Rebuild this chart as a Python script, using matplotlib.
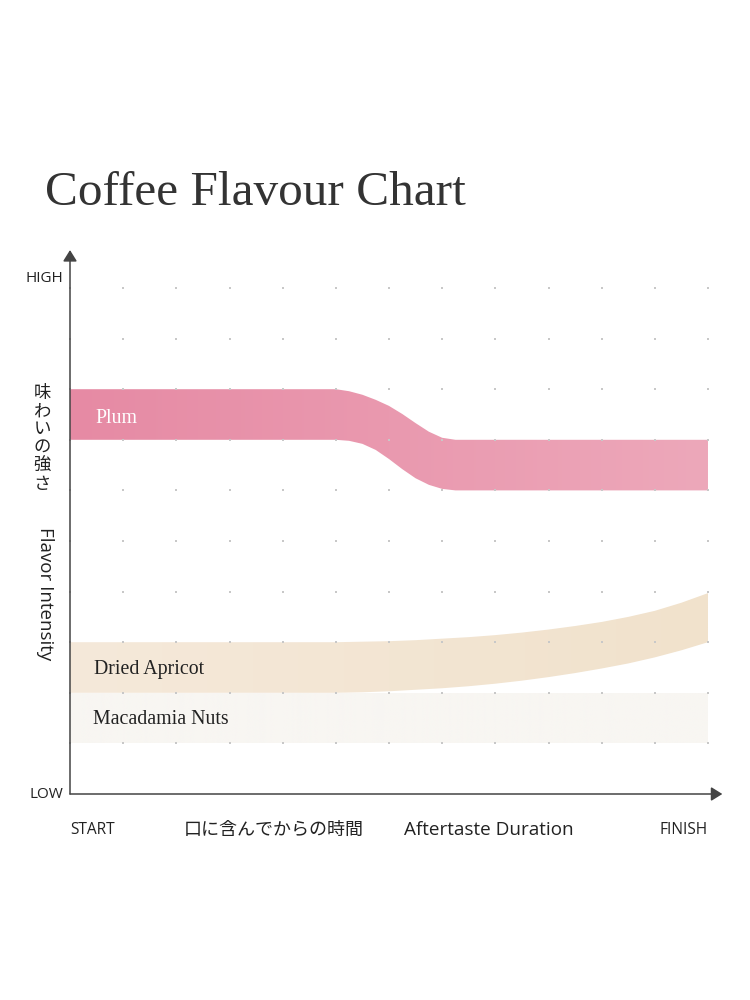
import numpy as np
import matplotlib
matplotlib.use("Agg")
import matplotlib.pyplot as plt
from matplotlib.patches import Polygon
from matplotlib.colors import to_rgb

# band edges (x = time 0..12, y = intensity 0..10)
plum_x_top = [0, 1, 2, 3, 4, 5, 5.25, 5.5, 5.75, 6.0, 6.25, 6.5, 6.75, 7.0, 7.25, 8, 9, 10, 11, 12]
plum_top = [8, 8, 8, 8, 8, 8, 7.96, 7.89, 7.79, 7.67, 7.51, 7.33, 7.16, 7.04, 7.0, 7, 7, 7, 7, 7]
plum_x_bot = [0, 1, 2, 3, 4, 5, 5.25, 5.5, 5.75, 6.0, 6.25, 6.5, 6.75, 7.0, 7.25, 7.5, 8, 9, 10, 11, 12]
plum_bot = [7, 7, 7, 7, 7, 7, 6.98, 6.92, 6.8, 6.62, 6.42, 6.24, 6.11, 6.03, 6.0, 6.0, 6, 6, 6, 6, 6]

apricot_x = [0, 1, 2, 3, 4, 5, 5.5, 6, 6.5, 7, 7.5, 8, 8.5, 9, 9.5, 10, 10.5, 11, 11.5, 12]
apricot_top = [3, 3, 3, 3, 3, 3.0, 3.01, 3.02, 3.04, 3.07, 3.1, 3.14, 3.19, 3.25, 3.32, 3.4, 3.5, 3.62, 3.78, 3.97]
apricot_bot = [2, 2, 2, 2, 2, 2.0, 2.01, 2.03, 2.06, 2.09, 2.13, 2.18, 2.24, 2.31, 2.39, 2.48, 2.58, 2.7, 2.84, 3.0]

nuts_x = [0, 12]
nuts_top = [2, 2]
nuts_bot = [1, 1]

flavours = ["Plum", "Dried Apricot", "Macadamia Nuts"]
label_pos = [(0.47, 7.43), (0.45, 2.46), (0.43, 1.47)]
label_colors = ["#ffffff", "#222222", "#222222"]
band_colors = [("#e68aa4", "#eda8ba"), ("#f5e9da", "#f1e2cc"), ("#f8f6f2", "#f8f6f2")]

x_ticks = ["START", "FINISH"]
y_ticks = ["HIGH", "LOW"]

SANS = ["Open Sans", "DejaVu Sans"]
CJK = ["Noto Sans CJK JP", "DejaVu Sans"]
SERIF = ["Liberation Serif", "DejaVu Serif"]

fig = plt.figure(figsize=(7.5, 10), dpi=100)
fig.patch.set_facecolor("white")
ax = fig.add_axes([70 / 750, 206 / 1000, 638 / 750, 506 / 1000])
ax.set_xlim(0, 12)
ax.set_ylim(0, 10)
ax.axis("off")


def gradient_band(xt, top, xb, bot, c0, c1):
    verts = np.column_stack([np.r_[xt, xb[::-1]], np.r_[top, bot[::-1]]])
    patch = Polygon(verts, closed=True, facecolor="none", edgecolor="none",
                    transform=ax.transData)
    ax.add_patch(patch)
    ramp = np.linspace(0, 1, 256)[None, :, None]
    img = (1 - ramp) * np.array(to_rgb(c0)) + ramp * np.array(to_rgb(c1))
    im = ax.imshow(img, extent=(0, 12, min(bot) - 0.1, max(top) + 0.1),
                   aspect="auto", interpolation="bilinear", zorder=1)
    im.set_clip_path(patch)


gradient_band(plum_x_top, plum_top, plum_x_bot, plum_bot, *band_colors[0])
gradient_band(apricot_x, apricot_top, apricot_x, apricot_bot, *band_colors[1])
gradient_band(nuts_x, nuts_top, nuts_x, nuts_bot, *band_colors[2])

# dotted grid
gx, gy = np.meshgrid(np.arange(0, 13), np.arange(1, 11))
ax.scatter(gx.ravel(), gy.ravel(), s=2, marker="s", color="#c8c8c8",
           linewidths=0, zorder=2, clip_on=False)

for name, (lx, ly), col in zip(flavours, label_pos, label_colors):
    ax.text(lx, ly, name, color=col, fontsize=14.3, family=SERIF,
            ha="left", va="center", zorder=4)

# axes with arrows
arrow = dict(arrowstyle="-|>,head_length=0.45,head_width=0.28", color="#444444",
             lw=1.1, mutation_scale=15, shrinkA=0, shrinkB=0)
ax.annotate("", xy=(0, 10.75), xytext=(0, 0), arrowprops=arrow,
            annotation_clip=False, zorder=5)
ax.annotate("", xy=(12.27, 0), xytext=(0, 0), arrowprops=arrow,
            annotation_clip=False, zorder=5)

# title
fig.text(45 / 750, 1 - 205 / 1000, "Coffee Flavour Chart", family=SERIF,
         fontsize=35.5, color="#333333", ha="left", va="baseline")

# y labels
fig.text(63 / 750, 1 - 278 / 1000, y_ticks[0], family=SANS, fontsize=11,
         color="#222222", ha="right", va="center")
fig.text(63 / 750, 1 - 794 / 1000, y_ticks[1], family=SANS, fontsize=11,
         color="#222222", ha="right", va="center")
for i, ch in enumerate("味わいの強さ"):
    fig.text(42 / 750, 1 - (393 + i * 18.2) / 1000, ch, family=CJK, fontsize=12.5,
             color="#222222", ha="center", va="center")
fig.text(45 / 750, 1 - 594 / 1000, "Flavor Intensity", family=SANS, fontsize=13.5,
         color="#222222", ha="center", va="center", rotation=-90)

# x labels
fig.text(70 / 750, 1 - 830 / 1000, x_ticks[0], family=SANS, fontsize=11.2,
         color="#222222", ha="left", va="center")
fig.text(708 / 750, 1 - 830 / 1000, x_ticks[1], family=SANS, fontsize=11.2,
         color="#222222", ha="right", va="center")
fig.text(274 / 750, 1 - 830 / 1000, "口に含んでからの時間", family=CJK, fontsize=13,
         color="#222222", ha="center", va="center")
fig.text(489 / 750, 1 - 830 / 1000, "Aftertaste Duration", family=SANS, fontsize=13.6,
         color="#222222", ha="center", va="center")

fig.savefig("out.png", dpi=100, facecolor="white")
